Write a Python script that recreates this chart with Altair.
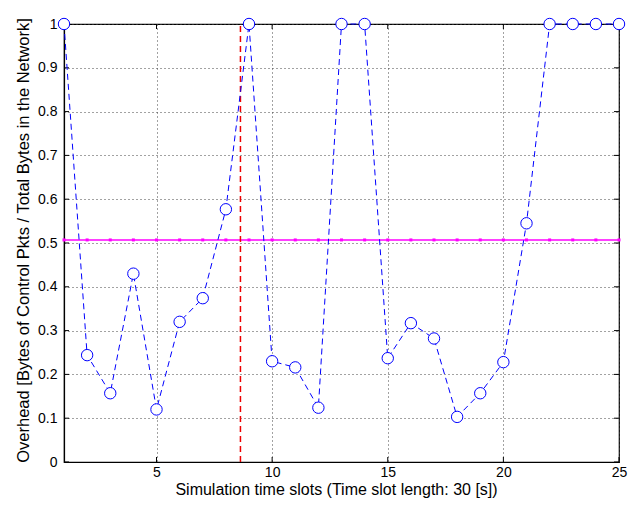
import altair as alt
import pandas as pd

# ---- data ----
slots = list(range(1, 26))
overhead = [1.0, 0.244, 0.157, 0.430, 0.120, 0.320, 0.374, 0.577, 1.0, 0.230,
            0.216, 0.124, 1.0, 1.0, 0.237, 0.317, 0.282, 0.103, 0.157, 0.228,
            0.545, 1.0, 1.0, 1.0, 1.0]
mean_overhead = 0.507
marker_slot = 8.63
x_ticks = [5, 10, 15, 20, 25]
y_ticks = [0, 0.1, 0.2, 0.3, 0.4, 0.5, 0.6, 0.7, 0.8, 0.9, 1]

W, H = 555, 438
PAD = {"left": 56, "top": 16, "right": 9, "bottom": 36}
FONT = "Liberation Sans"

df = pd.DataFrame({"slot": slots, "overhead": overhead})
mean_df = pd.DataFrame({"slot": slots, "mean": [mean_overhead] * len(slots)})
vline_df = pd.DataFrame({"slot": [marker_slot], "y0": [0.0], "y1": [1.0]})
xt_df = pd.DataFrame({"t": x_ticks})
yt_df = pd.DataFrame({"t": y_ticks})

xscale = alt.Scale(domain=[1, 25], nice=False, zero=False)
yscale = alt.Scale(domain=[0, 1], nice=False)

common_axis = dict(grid=True, gridDash=[1, 3], gridColor="#444", gridWidth=1,
                   tickSize=0, domainColor="black", domainWidth=1.2, labelFlush=False,
                   labelFont=FONT, titleFont=FONT, labelFontSize=14,
                   labelColor="black", titleColor="black", titleFontWeight="normal")

xaxis = alt.Axis(values=x_ticks, title="Simulation time slots (Time slot length: 30 [s])",
                 labelPadding=3, titleX=272, titleY=32.5, titleBaseline="alphabetic",
                 titleAlign="center", titleFontSize=16, **common_axis)
yaxis = alt.Axis(values=y_ticks, title="Overhead [Bytes of Control Pkts / Total Bytes in the Network]",
                 labelPadding=7, titleX=-36, titleY=216, titleBaseline="alphabetic",
                 titleAlign="center", titleAngle=270, titleFontSize=16.5,
                 labelExpr="datum.value == 0 ? '0' : datum.value == 1 ? '1' : format(datum.value, '.1f')",
                 **common_axis)

mean_line = alt.Chart(mean_df).mark_line(color="#FF00FF", strokeWidth=1.5).encode(
    x=alt.X("slot:Q", scale=xscale, axis=xaxis),
    y=alt.Y("mean:Q", scale=yscale, axis=yaxis),
)
mean_pts = alt.Chart(mean_df).mark_point(shape="square", filled=True, color="#FF00FF",
                                         size=9, opacity=1).encode(
    x=alt.X("slot:Q", scale=xscale),
    y=alt.Y("mean:Q", scale=yscale),
)
vline = alt.Chart(vline_df).mark_rule(color="#EE0000", strokeWidth=1.5, strokeDash=[6, 4]).encode(
    x=alt.X("slot:Q", scale=xscale),
    y=alt.Y("y0:Q", scale=yscale),
    y2="y1:Q",
)
data_line = alt.Chart(df).mark_line(color="#0000FF", strokeWidth=1, strokeDash=[6, 4]).encode(
    x=alt.X("slot:Q", scale=xscale),
    y=alt.Y("overhead:Q", scale=yscale),
)
data_pts = alt.Chart(df).mark_point(shape="circle", filled=True, fill="white", stroke="#0000FF",
                                    strokeWidth=1, size=130, opacity=1).encode(
    x=alt.X("slot:Q", scale=xscale),
    y=alt.Y("overhead:Q", scale=yscale),
)

# inward tick marks on all four sides
tick_style = dict(color="black", strokeWidth=1)
yt_left = alt.Chart(yt_df).mark_rule(**tick_style).encode(
    y=alt.Y("t:Q", scale=yscale), x=alt.value(0), x2=alt.value(5))
yt_right = alt.Chart(yt_df).mark_rule(**tick_style).encode(
    y=alt.Y("t:Q", scale=yscale), x=alt.value(W - 5), x2=alt.value(W))
xt_bottom = alt.Chart(xt_df).mark_rule(**tick_style).encode(
    x=alt.X("t:Q", scale=xscale), y=alt.value(H - 5), y2=alt.value(H))
xt_top = alt.Chart(xt_df).mark_rule(**tick_style).encode(
    x=alt.X("t:Q", scale=xscale), y=alt.value(0), y2=alt.value(5))

chart = alt.layer(
    mean_line, yt_left, yt_right, xt_bottom, xt_top, mean_pts, vline, data_line, data_pts
).properties(
    width=W, height=H,
    autosize="none",
    background="white",
    padding=PAD,
).configure_view(
    stroke="black", strokeWidth=1.2
)

chart.save("out.html", embed_options={"renderer": "svg", "actions": False})
